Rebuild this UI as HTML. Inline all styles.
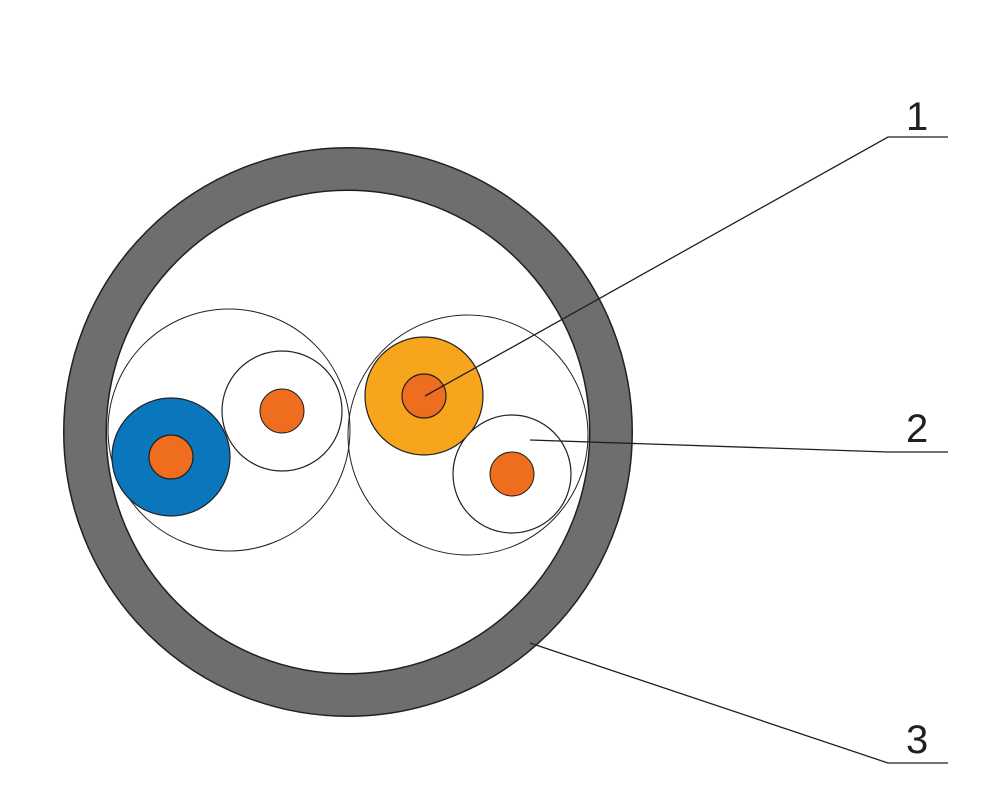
<!DOCTYPE html>
<html><head><meta charset="utf-8"><style>html,body{margin:0;padding:0;background:#fff}svg{display:block}</style></head>
<body>
<svg width="990" height="800" viewBox="0 0 990 800" xmlns="http://www.w3.org/2000/svg">
<circle cx="348" cy="432" r="263" fill="none" stroke="#231f20" stroke-width="44"/>
<circle cx="348" cy="432" r="263" fill="none" stroke="#6d6e70" stroke-width="41"/>
<circle cx="229" cy="430" r="121" fill="none" stroke="#231f20" stroke-width="1"/>
<circle cx="468" cy="435" r="120" fill="none" stroke="#231f20" stroke-width="1"/>
<circle cx="171" cy="457" r="59" fill="#0a77bd" stroke="#231f20" stroke-width="1.2"/>
<circle cx="171" cy="457" r="22" fill="#ee6d1f" stroke="#231f20" stroke-width="1.2"/>
<circle cx="282" cy="411" r="60" fill="#fff" stroke="#231f20" stroke-width="1.2"/>
<circle cx="282" cy="411" r="22" fill="#ee6d1f" stroke="#231f20" stroke-width="1"/>
<circle cx="424" cy="396" r="59" fill="#f6a51d" stroke="#231f20" stroke-width="1.2"/>
<circle cx="424" cy="396" r="22" fill="#ee6d1f" stroke="#231f20" stroke-width="1.2"/>
<circle cx="512" cy="474" r="59" fill="#fff" stroke="#231f20" stroke-width="1.2"/>
<circle cx="512" cy="474" r="22" fill="#ee6d1f" stroke="#231f20" stroke-width="1"/>
<g stroke="#231f20" stroke-width="1.3" fill="none">
<polyline points="425,396 888,137 948,137"/>
<polyline points="530,440 888,452 948,452"/>
<polyline points="530,643 888,763 948,763"/>
</g>
<g font-family="Liberation Sans, sans-serif" font-size="40" fill="#231f20">
<text x="906" y="130">1</text>
<text x="906" y="442">2</text>
<text x="906" y="753">3</text>
</g>
</svg>
</body></html>
